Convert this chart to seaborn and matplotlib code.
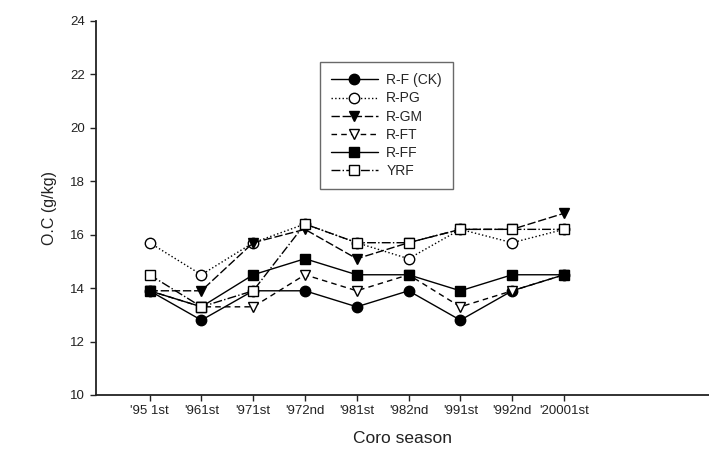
import matplotlib
matplotlib.use("Agg")
import matplotlib.pyplot as plt
import seaborn as sns
import pandas as pd

seasons = ["'95 1st", "'961st", "'971st", "'972nd", "'981st", "'982nd", "'991st", "'992nd", "'20001st"]
rf_ck = [13.9, 12.8, 13.9, 13.9, 13.3, 13.9, 12.8, 13.9, 14.5]
r_pg = [15.7, 14.5, 15.7, 16.4, 15.7, 15.1, 16.2, 15.7, 16.2]
r_gm = [13.9, 13.9, 15.7, 16.2, 15.1, 15.7, 16.2, 16.2, 16.8]
r_ft = [13.9, 13.3, 13.3, 14.5, 13.9, 14.5, 13.3, 13.9, 14.5]
r_ff = [13.9, 13.3, 14.5, 15.1, 14.5, 14.5, 13.9, 14.5, 14.5]
yrf = [14.5, 13.3, 13.9, 16.4, 15.7, 15.7, 16.2, 16.2, 16.2]
series_names = ["R-F (CK)", "R-PG", "R-GM", "R-FT", "R-FF", "YRF"]
series_vals = [rf_ck, r_pg, r_gm, r_ft, r_ff, yrf]

rows = []
for name, vals in zip(series_names, series_vals):
    for i, v in enumerate(vals):
        rows.append({"series": name, "pos": i, "season": seasons[i], "val": v})
df = pd.DataFrame(rows)

sns.set_style("white")
plt.rcParams["font.family"] = ["Liberation Sans", "DejaVu Sans"]

styles = {
    "R-F (CK)": dict(marker="o", mfc="black", ls="-"),
    "R-PG": dict(marker="o", mfc="white", ls=":"),
    "R-GM": dict(marker="v", mfc="black", ls=(0, (6, 2))),
    "R-FT": dict(marker="v", mfc="white", ls=(0, (4, 3))),
    "R-FF": dict(marker="s", mfc="black", ls="-"),
    "YRF": dict(marker="s", mfc="white", ls="-."),
}

fig = plt.figure(figsize=(7.09, 4.58), dpi=100)
ax = fig.add_axes([0.135, 0.1376, 0.865, 0.8166])
for name in series_names:
    st = styles[name]
    sub = df[df["series"] == name]
    sns.lineplot(data=sub, x="pos", y="val", ax=ax, color="black", linewidth=1.0,
                 linestyle=st["ls"], marker=st["marker"], markersize=7.5,
                 markerfacecolor=st["mfc"], markeredgecolor="black", markeredgewidth=1.0,
                 label=name, estimator=None, sort=False)

ax.set_xlim(-1.04, 10.8)
ax.set_ylim(10, 24)
ax.set_yticks(range(10, 25, 2))
ax.set_xticks(range(len(seasons)))
ax.set_xticklabels(seasons)
ax.tick_params(axis="both", direction="out", length=4, width=1, labelsize=9.5,
               colors="#222222", bottom=True, left=True)
for s in ["top", "right"]:
    ax.spines[s].set_visible(False)
for s in ["left", "bottom"]:
    ax.spines[s].set_color("#222222")
    ax.spines[s].set_linewidth(1.3)
ax.set_xlabel("Coro season", fontsize=12.5, color="#222222", labelpad=10)
ax.set_ylabel("O.C (g/kg)", fontsize=11.5, color="#222222", labelpad=10)

leg = ax.legend(loc="upper left", bbox_to_anchor=(0.365, 0.89), fontsize=10,
                frameon=True, fancybox=False, edgecolor="#444444",
                handlelength=3.4, labelspacing=0.3, borderpad=0.8, handletextpad=0.6,
                borderaxespad=0)
leg.get_frame().set_linewidth(1.0)

fig.savefig("out.png", dpi=100)
